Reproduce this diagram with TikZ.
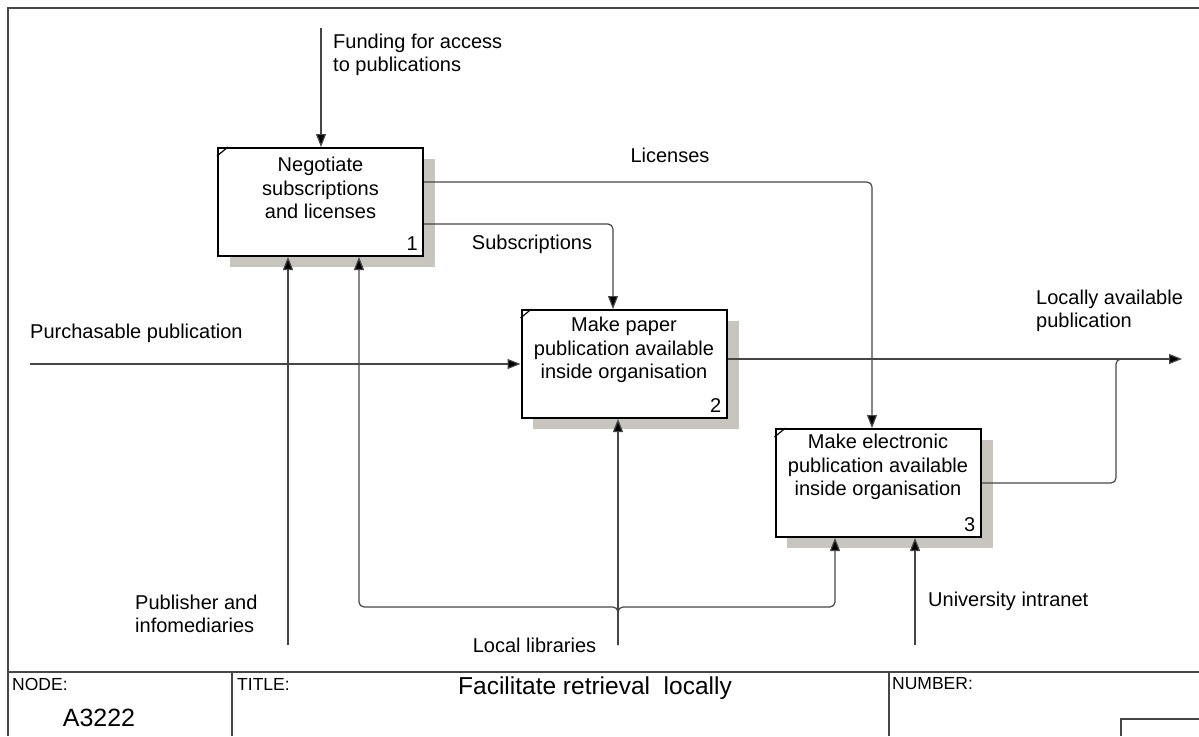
\documentclass[tikz,border=0pt]{standalone}
\usepackage{fontspec}
\setmainfont{Liberation Sans}
\usetikzlibrary{arrows.meta}
\definecolor{shadowc}{RGB}{200,197,190}
\definecolor{linec}{RGB}{70,70,70}
\definecolor{framec}{RGB}{70,70,70}
\tikzset{
  actbox/.style={draw=black, line width=2pt, fill=white, minimum width=205pt, minimum height=108pt, inner sep=0pt},
  shadowbox/.style={fill=shadowc, draw=none},
  lbl/.style={font=\fontsize{20}{23.5}\selectfont, inner sep=0pt},
  numl/.style={font=\fontsize{20}{23.5}\selectfont, inner sep=0pt, anchor=south east},
  conn/.style={draw=linec, line width=1.2pt},
  rbend/.style={rounded corners=5pt},
  arr/.style={-{Triangle[length=13pt,width=10pt,fill=black]}},
  frame/.style={draw=framec, line width=2pt},
  tb/.style={font=\fontsize{17.5}{20}\selectfont, inner sep=0pt, anchor=west},
}
\begin{document}
\begin{tikzpicture}[x=1pt,y=-1pt]
\useasboundingbox (0,0) rectangle (1199,736);
% frame
\draw[frame] (8,736) -- (8,8) -- (1199,8);
\draw[frame] (8,672) -- (1199,672);
\draw[frame] (232,672) -- (232,736);
\draw[frame] (889,672) -- (889,736);
\draw[frame] (1121,736) -- (1121,719) -- (1199,719);
% shadows
\fill[shadowbox] (230,159) rectangle (435,267);
\fill[shadowbox] (533,321) rectangle (739,429);
\fill[shadowbox] (787,440) rectangle (993,548);
% boxes
\node[actbox] (b1) at (320.5,202) {};
\node[actbox] (b2) at (624,364) {};
\node[actbox] (b3) at (878,483) {};
\foreach \b in {b1,b2,b3}{
  \draw[black, line width=1.2pt] ([yshift=-9pt]\b.north west) -- ([xshift=11pt]\b.north west);
}
\node[lbl, align=center] (t1) at ([yshift=14pt]b1.center) {Negotiate\\subscriptions\\and licenses};
\node[lbl, align=center] (t2) at ([yshift=14pt]b2.center) {Make paper\\publication available\\inside organisation};
\node[lbl, align=center] (t3) at ([yshift=16pt]b3.center) {Make electronic\\publication available\\inside organisation};
\node[numl] (n1) at ([xshift=-6pt,yshift=6pt]b1.south east) {1};
\node[numl] (n2) at ([xshift=-6pt,yshift=6pt]b2.south east) {2};
\node[numl] (n3) at ([xshift=-6pt,yshift=6pt]b3.south east) {3};
% coordinates for free ends
\coordinate (fund) at (321,28);
\coordinate (purch) at (30,364);
\coordinate (out) at (1182,359);
\coordinate (join) at (1116,359);
\coordinate (pub) at (288,645);
\coordinate (ll) at (618,645);
\coordinate (brL) at (359,607);
\coordinate (brR) at (835,607);
\coordinate (ui) at (915,645);
% connectors
\draw[conn,arr] (fund) -- (fund |- b1.north);
\draw[conn,arr] ([yshift=20pt]b1.east) [rbend] -| ([xshift=-6pt]b3.north);
\draw[conn,arr] ([yshift=-22pt]b1.east) [rbend] -| ([xshift=-11pt]b2.north);
\draw[conn,arr] (purch) -- (b2.west);
\draw[conn,rbend] (b3.east) -| (join) -- ([xshift=10pt]join);
\draw[conn,arr] ([yshift=5pt]b2.east) -- (out);
\draw[conn,arr] (pub) -- (pub |- b1.south);
\draw[conn,arr] (ll) -- (ll |- b2.south);
\draw[conn,arr] (ll) [rbend] |- (brL) -- (brL |- b1.south);
\draw[conn,arr] (ll) [rbend] |- (brR) -- (brR |- b3.south);
\draw[conn,arr] (ui) -- (ui |- b3.south);
% labels
\node[lbl, align=left, anchor=west] (lfund) at (333,55) {Funding for access\\to publications};
\node[lbl] (llic) at (670,155) {Licenses};
\node[lbl] (lsub) at (532,244) {Subscriptions};
\node[lbl, anchor=west] (lpur) at (30,333) {Purchasable publication};
\node[lbl, align=left, anchor=west] (lout) at (1036,311) {Locally available\\publication};
\node[lbl, align=left, anchor=west] (lpub) at (135,614) {Publisher and\\infomediaries};
\node[lbl] (lll) at (534.5,645) {Local libraries};
\node[lbl, anchor=west] (lui) at (928,601) {University intranet};
% title block
\node[tb] (tnode) at (12,684) {NODE:};
\node[font=\fontsize{25}{28}\selectfont, inner sep=0pt] (tnum) at (99,718) {A3222};
\node[tb] (ttitle) at (237,684) {TITLE:};
\node[font=\fontsize{24.5}{28}\selectfont, inner sep=0pt] (tt) at (595,688) {Facilitate retrieval\ \ locally};
\node[tb] (tnumber) at (892,684) {NUMBER:};
\end{tikzpicture}
\end{document}
